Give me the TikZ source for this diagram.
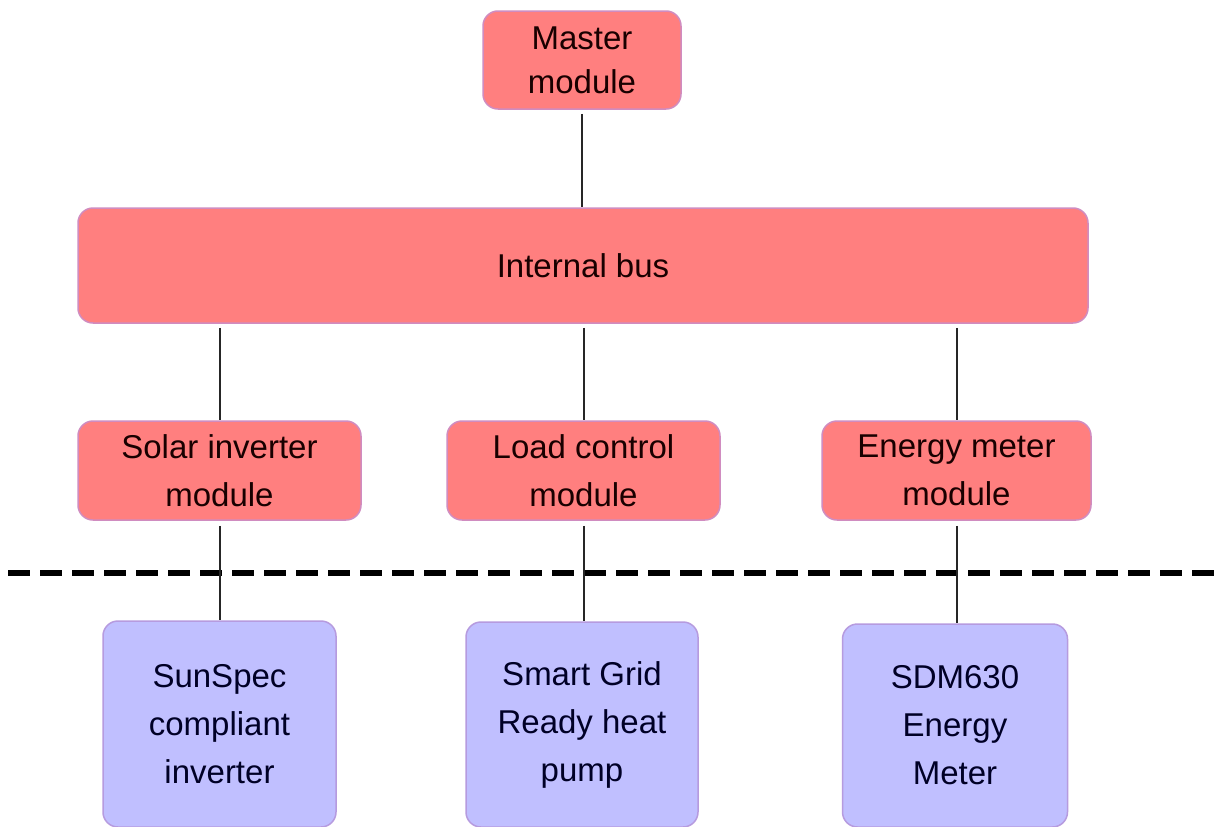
\documentclass[tikz,border=0pt]{standalone}
\usepackage{fontspec}
\setmainfont{Liberation Sans}
\begin{document}
\begin{tikzpicture}[x=1pt,y=-1pt,
  box/.style={draw=boxline, line width=1.5pt, rounded corners=15pt, inner sep=0pt,
    align=center, font=\fontsize{33}{48}\selectfont, text=black!90!red},
  module/.style={box, fill=modfill},
  device/.style={box, fill=devfill, draw=devline, text=black!85!blue},
  link/.style={line width=2pt, black!85}]
\definecolor{modfill}{HTML}{FF7F7F}
\definecolor{boxline}{HTML}{D08CC0}
\definecolor{devfill}{HTML}{C0BFFF}
\definecolor{devline}{HTML}{B69BDF}
\useasboundingbox (0,0) rectangle (1219,827);
\fill[white] (0,0) rectangle (1219,827);

% modules
\node[module, minimum width=198pt, minimum height=98pt, font=\fontsize{33}{44}\selectfont] (master) at (582,60) {Master\\module};
\node[module, minimum width=1010pt, minimum height=115pt] (bus) at (583,265.5) {Internal bus};
\node[module, minimum width=283pt, minimum height=99pt] (solar) at (219.5,470.5) {Solar inverter\\module};
\node[module, minimum width=273pt, minimum height=99pt] (load) at (583.5,470.5) {Load control\\module};
\node[module, minimum width=269pt, minimum height=99pt] (meter) at (956.5,470.5) {Energy meter\\module};

% devices
\node[device, minimum width=233pt, minimum height=206pt] (sunspec) at (219.5,724) {SunSpec\\compliant\\inverter};
\node[device, minimum width=232pt, minimum height=205pt] (heat) at (582,724.5) {Smart Grid\\Ready heat\\pump};
\node[device, minimum width=225pt, minimum height=203pt] (sdm) at (955,725.5) {SDM630\\Energy\\Meter};

% boundary
\coordinate (bl) at (8,572.5);
\coordinate (br) at (1219,572.5);
\draw[line width=6pt, dash pattern=on 22pt off 10pt] (bl) -- (br);

% connectors, kept vertical at the x of the upper node
\draw[link] ([yshift=-4pt]master.south) -- (master.south |- bus.north);
\draw[link] ([yshift=-4pt]bus.south -| solar.north) -- (solar.north);
\draw[link] ([yshift=-4pt]bus.south -| load.north) -- (load.north);
\draw[link] ([yshift=-4pt]bus.south -| meter.north) -- (meter.north);
\draw[link] ([yshift=-5pt]solar.south) -- (solar.south |- sunspec.north);
\draw[link] ([yshift=-5pt]load.south) -- (load.south |- heat.north);
\draw[link] ([yshift=-5pt]meter.south) -- (meter.south |- sdm.north);
\end{tikzpicture}
\end{document}
